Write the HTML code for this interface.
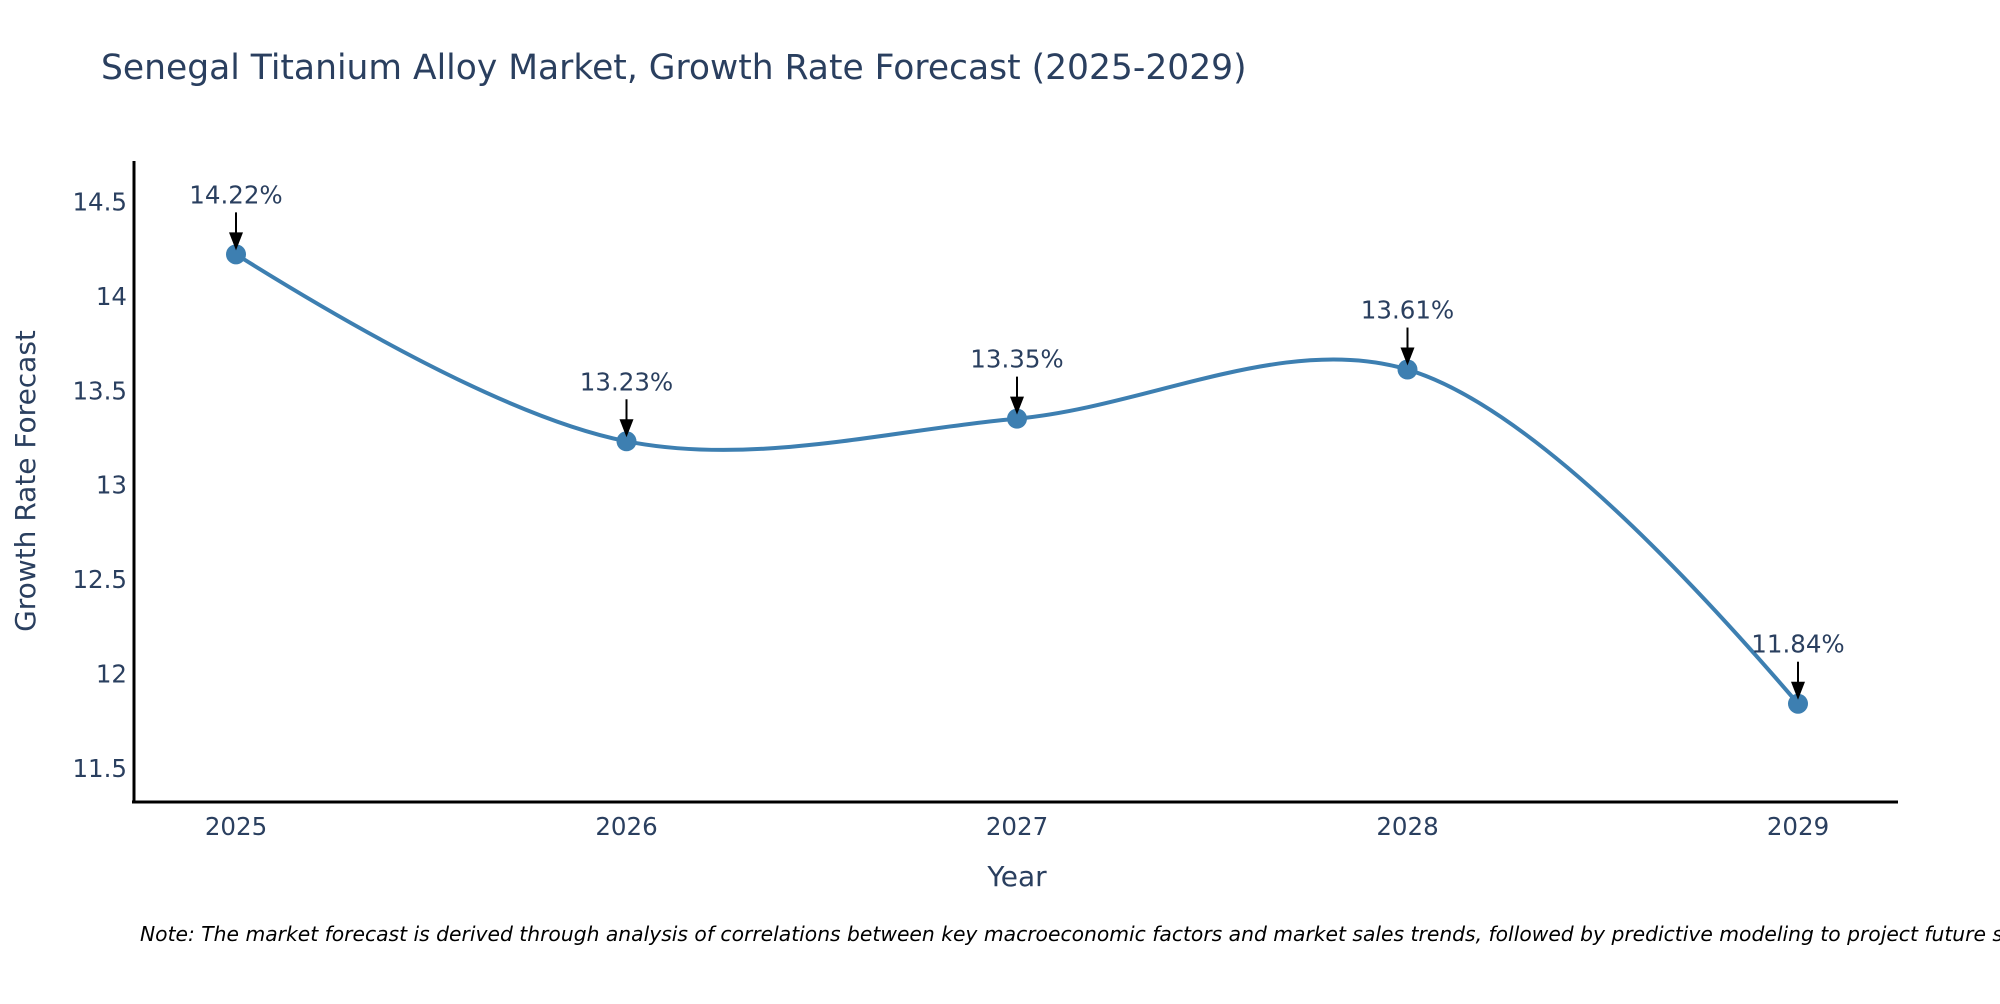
<!DOCTYPE html>
<html><head><meta charset="utf-8"><style>
body{margin:0;background:#fff;width:2000px;height:1000px;overflow:hidden;font-family:"DejaVu Sans","Liberation Sans",sans-serif}
svg text{fill:#2a3f5f}
</style></head><body>
<svg id="chart" width="2000" height="1000" xmlns="http://www.w3.org/2000/svg" font-family="DejaVu Sans, Liberation Sans, sans-serif">
<text x="101" y="79" font-size="34.5">Senegal Titanium Alloy Market, Growth Rate Forecast (2025-2029)</text>
<g id="yticks"></g><g id="xticks"></g>
<line x1="134" y1="161" x2="134" y2="803" stroke="#000" stroke-width="3"/>
<line x1="132" y1="802" x2="1898" y2="802" stroke="#000" stroke-width="3"/>
<path id="line" fill="none" stroke="#3d7fb1" stroke-width="4"/>
<g id="marks"></g>
<text x="1017" y="886" font-size="28" text-anchor="middle">Year</text>
<text transform="translate(35,481) rotate(-90)" font-size="28" text-anchor="middle">Growth Rate Forecast</text>
<text x="140" y="941" font-size="20.3" font-style="italic" style="fill:#000">Note: The market forecast is derived through analysis of correlations between key macroeconomic factors and market sales trends, followed by predictive modeling to project future sales.</text>
</svg>
<script>
const years=[2025,2026,2027,2028,2029];
const values=[14.22,13.23,13.35,13.61,11.84];
const labels=["14.22%","13.23%","13.35%","13.61%","11.84%"];
const yTicks=[11.5,12,12.5,13,13.5,14,14.5];
const NS="http://www.w3.org/2000/svg";
const xs=y=>236+(y-2025)*390.5;
const ys=v=>201.5+(14.5-v)*188.8;
function el(t,a,p){const e=document.createElementNS(NS,t);for(const k in a)e.setAttribute(k,a[k]);p.appendChild(e);return e;}
const yt=document.getElementById('yticks');
yTicks.forEach(v=>{const t=el('text',{x:127,y:ys(v)+9,'font-size':24.5,'text-anchor':'end'},yt);t.textContent=String(v);

});
const xt=document.getElementById('xticks');
years.forEach(y=>{const t=el('text',{x:xs(y),y:835,'font-size':24.5,'text-anchor':'middle'},xt);t.textContent=String(y);

});
const P=years.map((y,i)=>[xs(y),ys(values[i])]);
const tan=[];
for(let i=1;i<P.length-1;i++){const p=P[i-1],c=P[i],n=P[i+1];
const dx1=p[0]-c[0],dy1=p[1]-c[1],dx2=n[0]-c[0],dy2=n[1]-c[1];
const d1=Math.pow(dx1*dx1+dy1*dy1,0.25),d2=Math.pow(dx2*dx2+dy2*dy2,0.25);
const nx=d2*d2*dx1-d1*d1*dx2,ny=d2*d2*dy1-d1*d1*dy2;
const D1=3*d2*(d1+d2),D2=3*d1*(d1+d2);
tan[i]=[[c[0]+nx/D1,c[1]+ny/D1],[c[0]-nx/D2,c[1]-ny/D2]];}
const f=p=>p[0].toFixed(2)+','+p[1].toFixed(2);
let d='M'+f(P[0])+' Q'+f(tan[1][0])+' '+f(P[1]);
for(let i=2;i<P.length-1;i++)d+=' C'+f(tan[i-1][1])+' '+f(tan[i][0])+' '+f(P[i]);
d+=' Q'+f(tan[P.length-2][1])+' '+f(P[P.length-1]);
document.getElementById('line').setAttribute('d',d);
const mk=document.getElementById('marks');
P.forEach((p,i)=>{
const c=el('circle',{cx:p[0],cy:p[1],r:10,fill:'#3d7fb1'},mk);


const a=el('line',{x1:p[0],y1:p[1]-42,x2:p[0],y2:p[1]-20,stroke:'#000','stroke-width':2},mk);


const h=el('polygon',{points:(p[0]-7)+','+(p[1]-22)+' '+(p[0]+7)+','+(p[1]-22)+' '+p[0]+','+(p[1]-4),fill:'#000'},mk);


const t=el('text',{x:p[0],y:p[1]-51,'font-size':24.5,'text-anchor':'middle'},mk);t.textContent=labels[i];

});
</script>
</body></html>
